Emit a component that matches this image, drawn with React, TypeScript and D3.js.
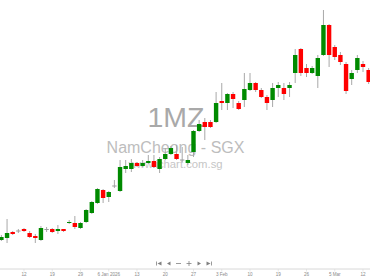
import React from "react";
import * as d3 from "d3";

// Trading days (SGX), 8 Dec 2025 – 13 Mar 2026
const dates = [
  "2025-12-08","2025-12-09","2025-12-10","2025-12-11","2025-12-12",
  "2025-12-15","2025-12-16","2025-12-17","2025-12-18","2025-12-19",
  "2025-12-22","2025-12-23","2025-12-24","2025-12-26",
  "2025-12-29","2025-12-30","2025-12-31","2026-01-02",
  "2026-01-05","2026-01-06","2026-01-07","2026-01-08","2026-01-09",
  "2026-01-12","2026-01-13","2026-01-14","2026-01-15","2026-01-16",
  "2026-01-19","2026-01-20","2026-01-21","2026-01-22","2026-01-23",
  "2026-01-26","2026-01-27","2026-01-28","2026-01-29","2026-01-30",
  "2026-02-02","2026-02-03","2026-02-04","2026-02-05","2026-02-06",
  "2026-02-09","2026-02-10","2026-02-11","2026-02-12","2026-02-13",
  "2026-02-16","2026-02-19","2026-02-20",
  "2026-02-23","2026-02-24","2026-02-25","2026-02-26","2026-02-27",
  "2026-03-02","2026-03-03","2026-03-04","2026-03-05","2026-03-06",
  "2026-03-09","2026-03-10","2026-03-11","2026-03-12","2026-03-13",
];

const opens = [
  0.60,0.62,0.68,0.69,0.71,0.67,0.64,0.60,0.705,0.71,
  0.69,0.71,0.77,0.77,0.72,0.78,0.87,0.97,1.10,1.03,
  1.14,1.09,1.31,1.31,1.37,1.34,1.37,1.39,1.31,1.41,
  1.46,1.46,1.40,1.37,1.48,1.69,1.78,1.78,1.78,1.99,
  1.97,2.06,1.97,2.00,2.10,2.17,2.10,2.03,2.00,2.12,
  2.12,2.12,2.27,2.51,2.32,2.27,2.24,2.45,2.75,2.53,
  2.45,2.36,2.21,2.30,2.36,2.30,
];
const highs = [
  0.65,0.81,0.69,0.71,0.72,0.69,0.66,0.74,0.73,0.72,
  0.75,0.71,0.80,0.84,0.78,0.91,0.99,1.12,1.11,1.09,
  1.20,1.40,1.40,1.41,1.38,1.40,1.45,1.45,1.43,1.52,
  1.54,1.55,1.53,1.45,1.70,1.80,1.82,1.80,2.08,2.17,
  2.07,2.08,1.99,2.27,2.27,2.18,2.12,2.05,2.17,2.18,
  2.17,2.18,2.51,2.52,2.36,2.34,2.45,2.90,2.76,2.55,
  2.48,2.38,2.30,2.45,2.39,2.32,
];
const lows = [
  0.59,0.57,0.65,0.67,0.68,0.62,0.57,0.59,0.68,0.67,
  0.66,0.68,0.76,0.71,0.71,0.77,0.86,0.96,0.97,0.98,
  1.12,1.08,1.27,1.28,1.33,1.33,1.36,1.32,1.27,1.40,
  1.45,1.40,1.38,1.35,1.43,1.68,1.60,1.72,1.77,1.90,
  1.90,1.92,1.90,1.93,2.09,2.08,2.02,1.90,1.93,2.03,
  2.00,2.03,2.17,2.24,2.23,2.26,2.12,2.44,2.33,2.40,
  2.35,2.06,2.15,2.27,2.28,2.16,
];
const closes = [
  0.63,0.67,0.66,0.69,0.69,0.63,0.62,0.72,0.705,0.68,
  0.71,0.69,0.78,0.73,0.77,0.90,0.98,1.11,1.02,1.08,
  1.14,1.33,1.34,1.37,1.34,1.37,1.39,1.33,1.41,1.46,
  1.52,1.41,1.40,1.40,1.69,1.76,1.73,1.73,1.97,1.97,
  2.06,2.01,1.91,2.11,2.17,2.10,2.03,1.97,2.12,2.15,
  2.06,2.15,2.45,2.27,2.27,2.32,2.42,2.75,2.45,2.43,
  2.38,2.09,2.27,2.42,2.33,2.18,
];

const tickIndex = [-1, 4, 9, 14, 19, 24, 29, 34, 39, 44, 49, 54, 59, 64];
const tickLabels = ["5", "12", "19", "29", "6 Jan 2026", "13", "20", "27", "3 Feb", "10", "19", "26", "5 Mar", "12"];

const symbol = "1MZ";
const company = "NamCheong - SGX";
const site = "www.ichart.com.sg";

const FONT = "'Liberation Sans', Arial, Helvetica, sans-serif";

export default function App() {
  const W = 370, H = 278;
  const x = d3.scaleLinear().domain([0, dates.length - 1]).range([1.4, 368.65]);
  const y = d3.scaleLinear().domain([0, 3]).range([300, 0]);
  const bw = 4.4;
  const axisY = 269;
  const UP = "#008a00", DOWN = "#ff0000", WICK = "#a8a8a8";

  const btnY = 263.5;
  const btnColor = "#808080";
  const btnX = [159, 169, 178.5, 189, 199, 209];

  return (
    <svg width={W} height={H} style={{ position: "absolute", left: 0, top: 0, background: "#fff" }}>
      {/* watermark */}
      <text x={176} y={127} textAnchor="middle" fontFamily={FONT} fontSize={28.5} fill="#a9a9a9">{symbol}</text>
      <text x={175.5} y={153} textAnchor="middle" fontFamily={FONT} fontSize={16} fill="#bdbdbd">{company}</text>
      <text x={175.5} y={168} textAnchor="middle" fontFamily={FONT} fontSize={11.3} fill="#c6c6c6">{site}</text>

      {/* candles */}
      <g>
        {dates.map((d, i) => {
          const cx = x(i);
          const o = opens[i], c = closes[i];
          const top = y(Math.max(o, c));
          const bot = y(Math.min(o, c));
          const doji = Math.abs(o - c) < 1e-9;
          const color = doji ? "#9a9a9a" : c > o ? UP : DOWN;
          return (
            <g key={d}>
              <line x1={cx} x2={cx} y1={y(highs[i])} y2={y(lows[i])} stroke={WICK} strokeWidth={1} />
              {doji ? (
                <line x1={cx - bw / 2} x2={cx + bw / 2} y1={top} y2={top} stroke={color} strokeWidth={1} />
              ) : (
                <rect x={cx - bw / 2} y={top} width={bw} height={Math.max(1, bot - top)} fill={color} />
              )}
            </g>
          );
        })}
      </g>

      {/* navigator buttons */}
      <g fill={btnColor} stroke={btnColor}>
        <g transform={`translate(${btnX[0]},${btnY})`}>
          <line x1={-2.5} x2={-2.5} y1={-2} y2={2} strokeWidth={0.8} />
          <path d="M2.5,-2 L-1.5,0 L2.5,2 Z" stroke="none" />
        </g>
        <g transform={`translate(${btnX[1]},${btnY})`}>
          <path d="M1.5,-2 L-2,0 L1.5,2 Z" stroke="none" />
        </g>
        <g transform={`translate(${btnX[2]},${btnY})`}>
          <line x1={-2.5} x2={2.5} y1={0} y2={0} strokeWidth={0.8} />
        </g>
        <g transform={`translate(${btnX[3]},${btnY})`}>
          <line x1={-2.5} x2={2.5} y1={0} y2={0} strokeWidth={0.8} />
          <line x1={0} x2={0} y1={-2.5} y2={2.5} strokeWidth={0.8} />
        </g>
        <g transform={`translate(${btnX[4]},${btnY})`}>
          <path d="M-1.5,-2 L2,0 L-1.5,2 Z" stroke="none" />
        </g>
        <g transform={`translate(${btnX[5]},${btnY})`}>
          <path d="M-2.5,-2 L1.5,0 L-2.5,2 Z" stroke="none" />
          <line x1={2.5} x2={2.5} y1={-2} y2={2} strokeWidth={0.8} />
        </g>
      </g>

      {/* x axis */}
      <line x1={0} x2={W} y1={axisY} y2={axisY} stroke="#d8d8d8" strokeWidth={1} />
      {tickIndex.map((ti, k) => (
        <g key={k}>
          <line x1={x(ti)} x2={x(ti)} y1={axisY} y2={axisY + 2.5} stroke="#d8d8d8" strokeWidth={0.6} />
          <text x={x(ti)} y={276} textAnchor="middle" fontFamily={FONT} fontSize={4.6} fill="#8a8a8a">
            {tickLabels[k]}
          </text>
        </g>
      ))}
    </svg>
  );
}
